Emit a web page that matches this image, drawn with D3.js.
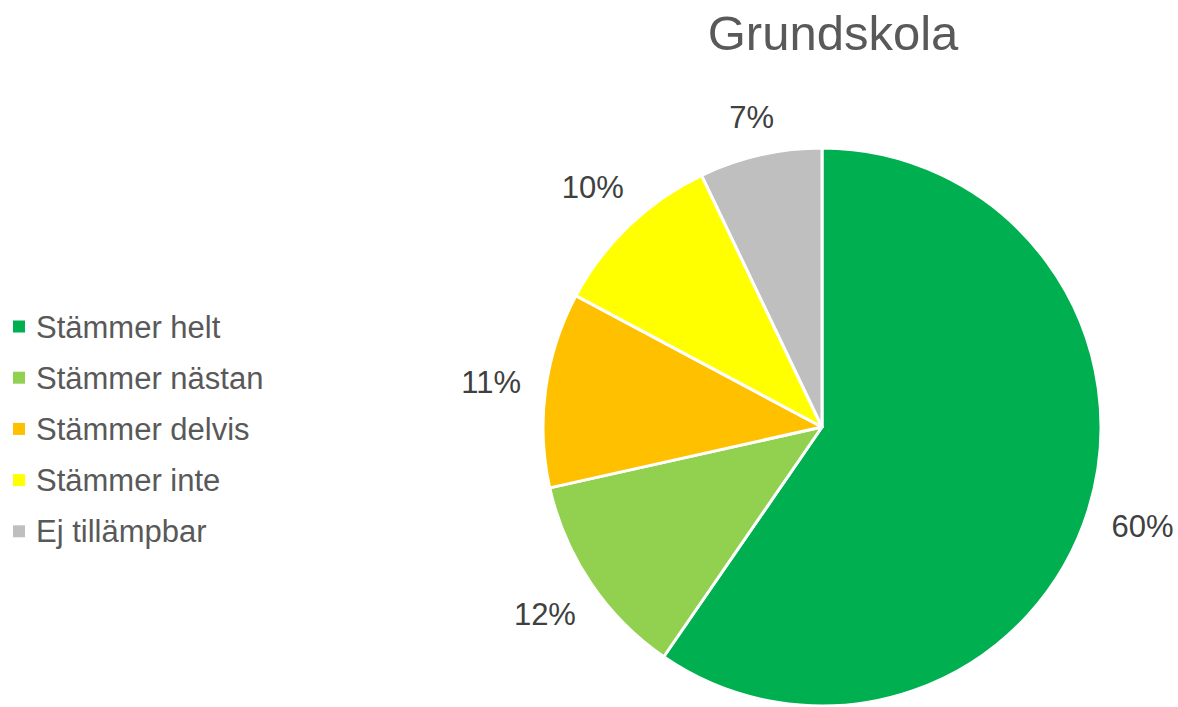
<!DOCTYPE html>
<html>
<head>
<meta charset="utf-8">
<script src="https://cdn.jsdelivr.net/npm/d3@7"></script>
<style>
  body { margin: 0; background: #fff; }
  text { font-family: "Liberation Sans", Arial, sans-serif; }
</style>
</head>
<body>
<div id="wrapper"></div>
<script>
const categories = ['Stämmer helt', 'Stämmer nästan', 'Stämmer delvis', 'Stämmer inte', 'Ej tillämpbar']
const values = [59.6, 11.9, 11.3, 10.1, 7.1]
const colors = ['#00B050', '#92D050', '#FFC000', '#FFFF00', '#BFBFBF']
const title = 'Grundskola'

const dimensions = {
  width: 1178,
  height: 707,
  cx: 822,
  cy: 427,
  radius: 279
}

const svg = d3.select('#wrapper').append('svg')
  .attr('width', dimensions.width)
  .attr('height', dimensions.height)

svg.append('text')
  .attr('x', 833)
  .attr('y', 50)
  .attr('text-anchor', 'middle')
  .attr('fill', '#595959')
  .style('font-size', '49px')
  .text(title)

const data = categories.map((c, i) => ({ name: c, value: values[i], color: colors[i] }))

const pie = d3.pie().sort(null).value(d => d.value)
const arc = d3.arc().innerRadius(0).outerRadius(dimensions.radius)

const bounds = svg.append('g')
  .attr('transform', `translate(${dimensions.cx},${dimensions.cy})`)

const arcs = pie(data)

bounds.selectAll('path')
  .data(arcs)
  .enter().append('path')
  .attr('d', arc)
  .attr('fill', d => d.data.color)
  .attr('stroke', '#fff')
  .attr('stroke-width', 3)
  .attr('stroke-linejoin', 'round')

// labels outside the slices
const labels = bounds.selectAll('text.label')
  .data(arcs)
  .enter().append('text')
  .attr('class', 'label')
  .attr('fill', '#404040')
  .style('font-size', '31px')
  .attr('text-anchor', 'middle')
  .attr('dominant-baseline', 'central')
  .text(d => Math.round(d.data.value) + '%')

labels.each(function (d) {
  const w = this.getComputedTextLength()
  const a = (d.startAngle + d.endAngle) / 2
  const dx = Math.sin(a), dy = -Math.cos(a)
  const r = 303 + Math.abs(dx) * w / 2 + Math.abs(dy) * 10
  d3.select(this)
    .attr('x', dx * r)
    .attr('y', dy * r)
})

// legend
const legend = svg.append('g')
  .attr('transform', 'translate(13,326.5)')

const rows = legend.selectAll('g')
  .data(data)
  .enter().append('g')
  .attr('transform', (d, i) => `translate(0,${i * 51.2})`)

rows.append('rect')
  .attr('x', 0)
  .attr('y', -6)
  .attr('width', 12)
  .attr('height', 12)
  .attr('fill', d => d.color)

rows.append('text')
  .attr('x', 23)
  .attr('y', 11)
  .attr('fill', '#595959')
  .style('font-size', '31px')
  .text(d => d.name)
</script>
</body>
</html>
